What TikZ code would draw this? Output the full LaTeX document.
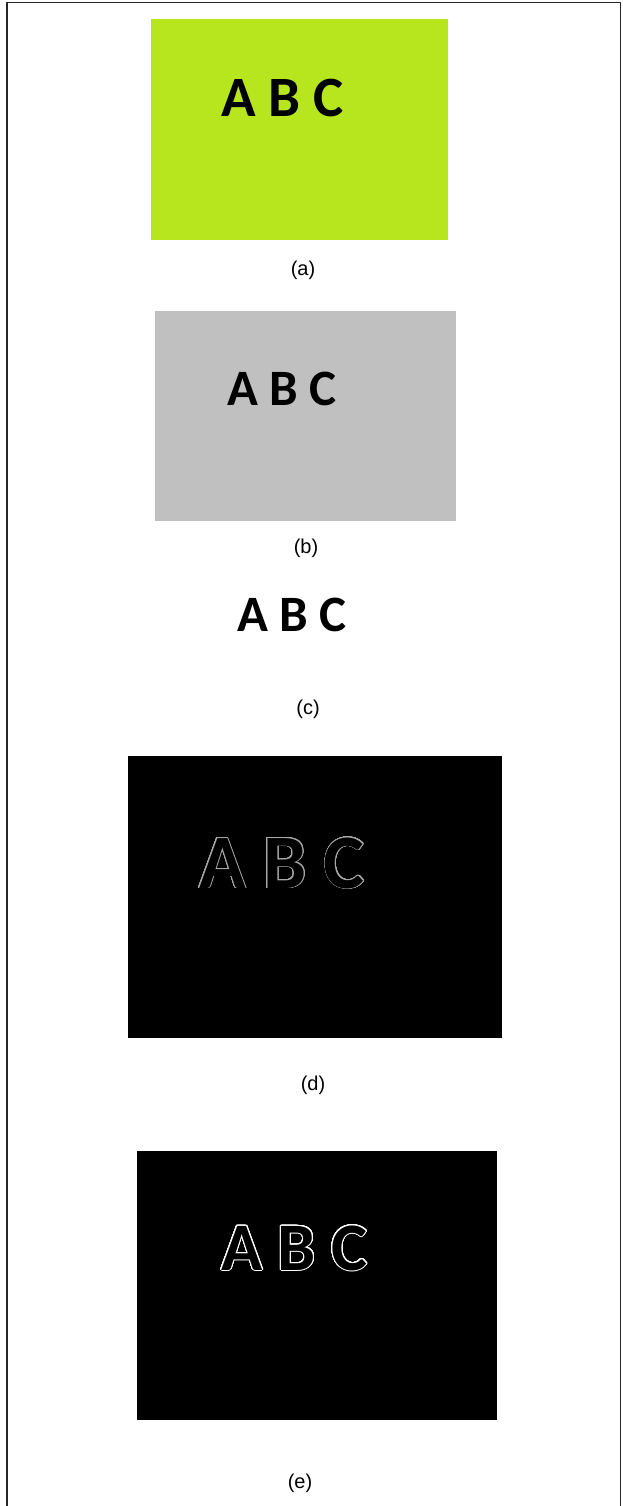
\documentclass[tikz,border=0pt]{standalone}
\usepackage{fontspec}
\setmainfont{Liberation Sans}
\newfontfamily\letterfont{Carlito}
\usepackage{xcolor}
\usepackage[copies]{contour}
\contournumber{32}
\usetikzlibrary{positioning}
\definecolor{limeback}{HTML}{B8E61E}
\definecolor{greyback}{HTML}{C0C0C0}
\definecolor{edgegrey}{HTML}{A8A8A8}
\tikzset{
  every picture/.style={line join=round, line cap=round},
  letters/.style={inner sep=0pt, anchor=base west, font=\letterfont\bfseries},
  caption/.style={inner sep=0pt, font=\fontsize{20}{20}\selectfont},
}
\newcommand{\outlined}[3]{\contourlength{#1}\contour{#2}{\textcolor{black}{#3}}}

\begin{document}
\begin{tikzpicture}[x=1pt,y=-1pt]
\useasboundingbox (0,0) rectangle (622,1506);
% frame
\draw[line width=1.8pt,black!85](7,1506)--(7,2.5)--(620.5,2.5)--(620.5,1506);
% (a)
\fill[limeback](151,19)rectangle(448,240);
\node[letters,font=\letterfont\bfseries\fontsize{57}{57}\selectfont](textA) at (221,117){A B C};
\node[caption](capA) at (303,270){(a)};
% (b)
\fill[greyback](155,311)rectangle(456,521);
\node[letters,font=\letterfont\bfseries\fontsize{51}{51}\selectfont](textB) at (227,405){A B C};
\node[caption](capB) at (306,548){(b)};
% (c)
\node[letters,font=\letterfont\bfseries\fontsize{51}{51}\selectfont](textC) at (237,631){A B C};
\node[caption](capC) at (308,709){(c)};
% (d)
\fill[black](128,756)rectangle(502,1038);
\node[letters,font=\letterfont\bfseries\fontsize{77}{77}\selectfont](textD) at (199,888){\outlined{0.8pt}{edgegrey}{A B C}};
\node[caption](capD) at (313,1085){(d)};
% (e)
\fill[black](137,1151)rectangle(497,1420);
\node[letters,font=\letterfont\bfseries\fontsize{68}{68}\selectfont](textE) at (221,1270){\outlined{1pt}{white}{A B C}};
\node[caption](capE) at (300,1483){(e)};
\end{tikzpicture}
\end{document}
